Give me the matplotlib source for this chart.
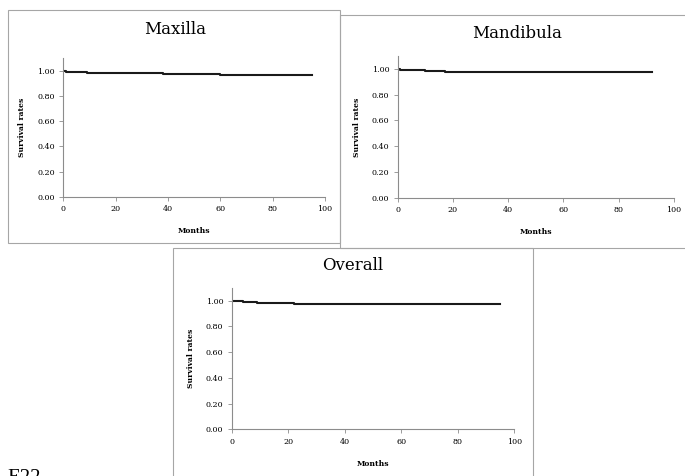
import matplotlib
matplotlib.use("Agg")
import matplotlib.pyplot as plt
from matplotlib.patches import Rectangle

# Data (Kaplan-Meier step curves)
maxilla_months = [0, 1, 4, 9, 29, 38, 60, 95]
maxilla_surv = [1.00, 0.995, 0.99, 0.985, 0.98, 0.975, 0.97, 0.97]

mandibula_months = [0, 1, 5, 10, 14, 17, 92]
mandibula_surv = [1.00, 0.995, 0.99, 0.985, 0.98, 0.975, 0.975]

overall_months = [0, 1, 4, 9, 16, 22, 60, 95]
overall_surv = [1.00, 0.995, 0.99, 0.985, 0.98, 0.975, 0.97, 0.97]

x_ticks = [0, 20, 40, 60, 80, 100]
y_ticks = [0.0, 0.2, 0.4, 0.6, 0.8, 1.0]
y_ticklabels = ["0.00", "0.20", "0.40", "0.60", "0.80", "1.00"]

W, H = 685, 476
fig = plt.figure(figsize=(W / 100, H / 100), dpi=100)
serif = "DejaVu Serif"

def px_rect(x0, y0, x1, y1):
    return [x0 / W, 1 - y1 / H, (x1 - x0) / W, (y1 - y0) / H]

# Panel frames
frame_col = "#a6a6a6"
for (x0, y0, x1, y1) in [(8, 10, 340, 243), (340, 15, 690, 248), (173, 248, 533, 490)]:
    fig.add_artist(Rectangle((x0 / W, 1 - y1 / H), (x1 - x0) / W, (y1 - y0) / H,
                             transform=fig.transFigure, fill=False,
                             edgecolor=frame_col, linewidth=0.8))

panels = [
    ("Maxilla", maxilla_months, maxilla_surv, (63.3, 58.3, 325, 196.7), (175, 30)),
    ("Mandibula", mandibula_months, mandibula_surv, (397.7, 56, 674, 197.7), (517, 33)),
    ("Overall", overall_months, overall_surv, (231.7, 287.7, 514.3, 429.3), (353, 266)),
]

for title, xs, ys, (x0, y0, x1, y1), (tx, ty) in panels:
    ax = fig.add_axes(px_rect(x0, y0, x1, y1))
    ax.step(xs, ys, where="post", color="#1a1a1a", linewidth=1.5)
    ax.set_xlim(0, 100)
    ax.set_ylim(0, 1.1)
    ax.set_xticks(x_ticks)
    ax.set_yticks(y_ticks)
    ax.set_yticklabels(y_ticklabels)
    for s in ["top", "right"]:
        ax.spines[s].set_visible(False)
    for s in ["left", "bottom"]:
        ax.spines[s].set_color("#8c8c8c")
        ax.spines[s].set_linewidth(0.8)
    ax.tick_params(direction="out", length=3, width=0.6, color="#8c8c8c",
                   labelsize=5.8, pad=3)
    for lab in ax.get_xticklabels() + ax.get_yticklabels():
        lab.set_fontfamily(serif)
    ax.set_xlabel("Months", fontsize=5.5, fontweight="bold", family=serif, labelpad=10)
    ax.set_ylabel("Survival rates", fontsize=5.5, fontweight="bold", family=serif, labelpad=8)
    fig.text(tx / W, 1 - ty / H, title, ha="center", va="center",
             fontsize=12, family=serif)

fig.text(7 / W, 1 - 469 / H, "E22", ha="left", va="top", fontsize=15,
         family="Liberation Serif")

fig.savefig("out.png", dpi=100)
